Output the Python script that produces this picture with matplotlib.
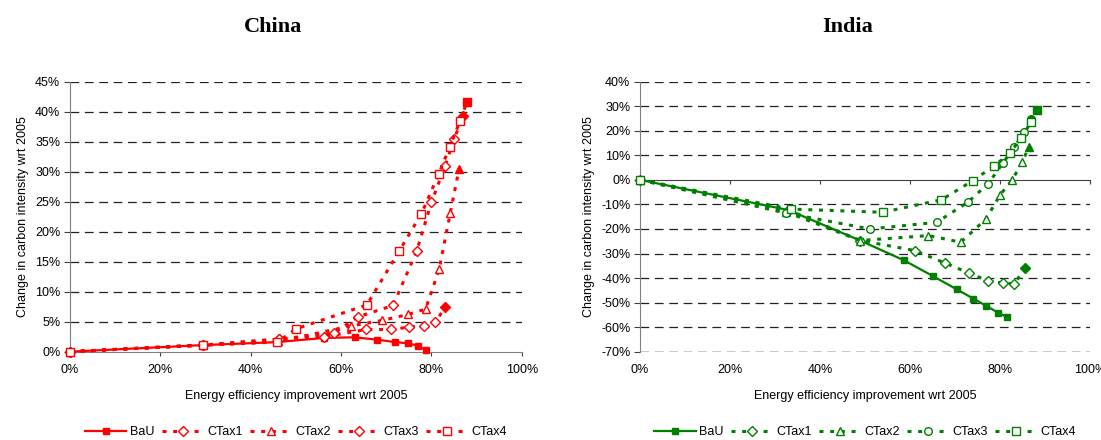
import matplotlib
matplotlib.use('Agg')
import matplotlib.pyplot as plt
from matplotlib.ticker import FuncFormatter

plt.rcParams['font.family'] = 'sans-serif'
plt.rcParams['font.sans-serif'] = ['Liberation Sans', 'DejaVu Sans']
plt.rcParams['axes.unicode_minus'] = False
plt.rcParams.update({'font.size': 9})

#%% >>>>> data >>>>>
series_names = ['BaU', 'CTax1', 'CTax2', 'CTax3', 'CTax4']

# China
ch_bau_x = [0, 29.5, 45.9, 56.3, 63.0, 68.0, 72.0, 74.8, 77.0, 78.9]
ch_bau_y = [0, 1.1, 1.6, 2.3, 2.4, 2.0, 1.6, 1.4, 1.0, 0.2]
ch_ctax1_x = [0, 29.5, 46.3, 56.3, 65.6, 71.0, 75.1, 78.4, 80.9, 83.0]
ch_ctax1_y = [0, 1.1, 2.1, 2.5, 3.7, 3.7, 4.1, 4.3, 4.9, 7.4]
ch_ctax2_x = [0, 29.5, 46.1, 62.2, 69.0, 74.8, 78.7, 81.7, 84.2, 86.1]
ch_ctax2_y = [0, 1.1, 1.7, 4.3, 5.2, 6.2, 7.1, 13.7, 23.2, 30.4]
ch_ctax3_x = [0, 29.5, 46.3, 58.5, 63.7, 71.5, 76.7, 80.0, 83.0, 85.0, 87.0]
ch_ctax3_y = [0, 1.1, 2.1, 3.1, 5.8, 7.7, 16.7, 24.9, 30.9, 35.4, 39.3]
ch_ctax4_x = [0, 29.5, 45.9, 50.0, 65.7, 72.8, 77.8, 81.6, 84.1, 86.3, 87.9]
ch_ctax4_y = [0, 1.1, 1.6, 3.8, 7.8, 16.7, 23.0, 29.6, 34.2, 38.4, 41.7]

# India
in_bau_x = [0, 33.0, 48.9, 58.7, 65.2, 70.4, 74.1, 77.0, 79.6, 81.5]
in_bau_y = [0, -12.3, -24.7, -32.8, -39.3, -44.6, -48.4, -51.4, -54.1, -55.8]
in_ctax1_x = [0, 33.0, 48.9, 61.1, 67.8, 73.2, 77.4, 80.6, 83.2, 85.6]
in_ctax1_y = [0, -12.3, -24.7, -28.8, -33.9, -38.0, -41.2, -42.0, -42.3, -35.8]
in_ctax2_x = [0, 32.4, 48.9, 64.1, 71.3, 76.9, 80.0, 82.7, 85.0, 86.4]
in_ctax2_y = [0, -13.0, -24.7, -22.7, -25.4, -15.9, -6.2, 0.0, 7.3, 13.5]
in_ctax3_x = [0, 32.4, 51.1, 65.9, 72.8, 77.4, 80.7, 83.2, 85.4, 86.8]
in_ctax3_y = [0, -13.5, -20.0, -17.3, -9.2, -1.5, 7.0, 13.4, 19.5, 24.9]
in_ctax4_x = [0, 33.6, 53.9, 67.0, 73.9, 78.7, 82.2, 84.7, 86.9, 88.3]
in_ctax4_y = [0, -11.9, -13.2, -8.1, -0.4, 5.7, 10.8, 17.2, 23.5, 28.6]

x_ticks = [0, 20, 40, 60, 80, 100]
ch_y_ticks = [0, 5, 10, 15, 20, 25, 30, 35, 40, 45]
in_y_ticks = [-70, -60, -50, -40, -30, -20, -10, 0, 10, 20, 30, 40]
# <<<<< data <<<<<

pct = FuncFormatter(lambda v, p: '%d%%' % round(v))
dotted = (0, (1.3, 2.2))
msize = {'D': 5, '^': 6, 's': 5.5, 'o': 5.5}
xlab = 'Energy efficiency improvement wrt 2005'


def draw_panel(ax, color, bau, ctax, markers, yticks):
    ax.plot(bau[0], bau[1], '-', color=color, lw=1.6, marker='s', ms=5,
            mfc=color, mec=color, label='BaU', clip_on=False, zorder=3)
    for i, (xs, ys) in enumerate(ctax):
        m = markers[i]
        ax.plot(xs, ys, linestyle=dotted, color=color, lw=2.2, marker=m,
                ms=msize[m], mfc='white', mec=color, mew=1,
                markevery=slice(0, len(xs) - 1), label=series_names[i + 1],
                clip_on=False, zorder=4 + i)
        ax.plot(xs[-1:], ys[-1:], linestyle='none', marker=m,
                ms=msize[m], color=color, zorder=4 + i)

    ax.set_xlim(0, 100)
    ax.set_ylim(yticks[0], yticks[-1])
    ax.set_xticks(x_ticks)
    ax.set_yticks(yticks)
    ax.xaxis.set_major_formatter(pct)
    ax.yaxis.set_major_formatter(pct)
    for t in yticks:
        if t != 0:
            ax.axhline(t, color='#222222', lw=0.9, dashes=(7, 4.5), zorder=1)
    for s in ['top', 'right']:
        ax.spines[s].set_visible(False)
    ax.spines['left'].set_color('#808080')
    ax.spines['bottom'].set_color('#808080')
    ax.tick_params(axis='y', length=4, color='#404040', pad=3)
    ax.tick_params(axis='x', length=3, color='#404040', pad=6)
    ax.set_ylabel('Change in carbon intensity wrt 2005', labelpad=4)
    ax.legend(loc='center', bbox_to_anchor=(0.5, -0.297), ncol=5, frameon=False,
              handlelength=3.3, handletextpad=0.3, columnspacing=0.6,
              borderaxespad=0)


fig = plt.figure(figsize=(11.01, 4.40), dpi=100)

ax1 = fig.add_axes([0.0636, 0.2007, 0.4103, 0.6136])
draw_panel(ax1, '#FF0000', (ch_bau_x, ch_bau_y),
           [(ch_ctax1_x, ch_ctax1_y), (ch_ctax2_x, ch_ctax2_y),
            (ch_ctax3_x, ch_ctax3_y), (ch_ctax4_x, ch_ctax4_y)],
           ['D', '^', 'D', 's'], ch_y_ticks)
ax1.set_xlabel(xlab, labelpad=10)

ax2 = fig.add_axes([0.5813, 0.2007, 0.4087, 0.6136])
draw_panel(ax2, '#008000', (in_bau_x, in_bau_y),
           [(in_ctax1_x, in_ctax1_y), (in_ctax2_x, in_ctax2_y),
            (in_ctax3_x, in_ctax3_y), (in_ctax4_x, in_ctax4_y)],
           ['D', '^', 'o', 's'], in_y_ticks)
# India: axis line through 0, labels kept at the bottom
ax2.spines['bottom'].set_position(('data', 0))
ax2.spines['bottom'].set_color('#404040')
ax2.tick_params(axis='x', labelbottom=False)
sec = ax2.secondary_xaxis('bottom')
sec.set_xticks(x_ticks)
sec.xaxis.set_major_formatter(pct)
sec.spines['bottom'].set_visible(False)
sec.tick_params(axis='x', length=0, pad=9)
sec.set_xlabel(xlab, labelpad=10)
ax2.axhline(in_y_ticks[0], color='#222222', lw=0.9, dashes=(7, 4.5), zorder=1)

fig.text(273 / 1101, 1 - 27 / 440, 'China', ha='center', va='center',
         family='Liberation Serif', weight='bold', fontsize=16)
fig.text(848 / 1101, 1 - 27 / 440, 'India', ha='center', va='center',
         family='Liberation Serif', weight='bold', fontsize=16)

fig.savefig('out.png', dpi=100)
